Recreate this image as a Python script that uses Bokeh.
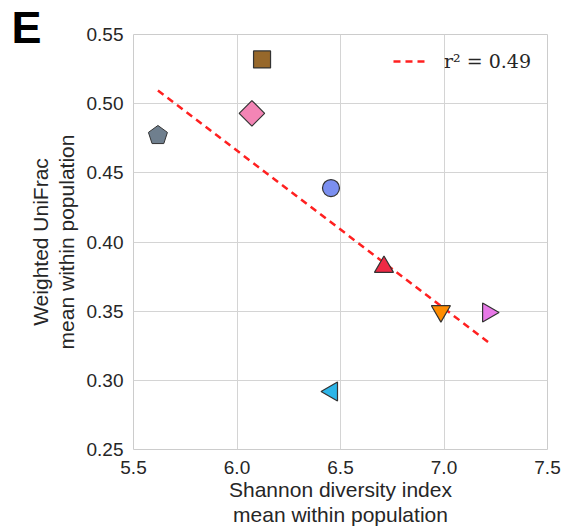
import numpy as np
from bokeh.plotting import figure
from bokeh.models import (ColumnDataSource, Title, Range1d, FixedTicker,
                          PrintfTickFormatter)
from bokeh.embed import file_html
from bokeh.resources import INLINE

# ---- data ----
shannon = [5.618, 6.121, 6.072, 6.454, 6.710, 6.985, 7.213, 6.459]
unifrac = [0.477, 0.532, 0.493, 0.439, 0.382, 0.350, 0.349, 0.292]
marker_kind = ["pentagon", "square", "diamond", "circle", "triangle",
               "inverted_triangle", "triangle_right", "triangle_left"]
marker_color = ["#6f7f8e", "#97682b", "#f385b5", "#7b8ff0", "#ee2a45",
                "#ff8c00", "#e879e8", "#2cb5e8"]
r_squared = 0.49
x_ticks = [5.5, 6.0, 6.5, 7.0, 7.5]
y_ticks = [0.25, 0.30, 0.35, 0.40, 0.45, 0.50, 0.55]

FONT = "Liberation Sans"
TXT = "#262626"

p = figure(width=563, height=529, output_backend="svg", toolbar_location=None,
           x_range=Range1d(5.5, 7.5), y_range=Range1d(0.25, 0.55),
           min_border_left=133, min_border_right=16,
           min_border_top=34, min_border_bottom=80)

p.background_fill_color = "white"
p.border_fill_color = "white"
p.outline_line_color = "#cccccc"
p.outline_line_width = 1

p.xaxis.ticker = FixedTicker(ticks=x_ticks)
p.yaxis.ticker = FixedTicker(ticks=y_ticks)
p.xaxis.formatter = PrintfTickFormatter(format="%.1f")
p.yaxis.formatter = PrintfTickFormatter(format="%.2f")
for ax in (p.xaxis[0], p.yaxis[0]):
    ax.axis_line_color = None
    ax.major_tick_line_color = None
    ax.minor_tick_line_color = None
    ax.major_tick_out = 0
    ax.major_tick_in = 0
    ax.minor_tick_out = 0
    ax.minor_tick_in = 0
    ax.major_label_text_font = FONT
    ax.major_label_text_font_size = "19px"
    ax.major_label_text_color = TXT
    ax.axis_label_text_font = FONT
    ax.axis_label_text_font_size = "21px"
    ax.axis_label_text_font_style = "normal"
    ax.axis_label_text_color = TXT
    ax.axis_label_text_line_height = 1.12
p.xaxis.major_label_standoff = 11
p.yaxis.major_label_standoff = 10
p.xaxis.axis_label = "Shannon diversity index\nmean within population"
p.yaxis.axis_label = "Weighted UniFrac\nmean within population"
p.xaxis.axis_label_standoff = 1
p.yaxis.axis_label_standoff = 6

p.xgrid.ticker = FixedTicker(ticks=x_ticks)
p.ygrid.ticker = FixedTicker(ticks=y_ticks)
p.grid.grid_line_color = "#d4d4d4"
p.grid.grid_line_width = 1

# regression line from the data
slope, intercept = np.polyfit(shannon, unifrac, 1)
fx = np.array([min(shannon), max(shannon)])
fy = slope * fx + intercept
p.line(fx, fy, line_color="#ff2020", line_width=2.5, line_dash="7 5",
       legend_label="r\u00b2 = %.2f" % r_squared)

EDGE = "#333333"
def pts(kind):
    idx = [i for i, k in enumerate(marker_kind) if k == kind]
    return ColumnDataSource(dict(x=[shannon[i] for i in idx],
                                 y=[unifrac[i] for i in idx],
                                 c=[marker_color[i] for i in idx]))

p.ngon(x="x", y="y", radius=10, radius_units="screen", n=5,
       fill_color="c", line_color=EDGE, line_width=1, source=pts("pentagon"))
p.scatter("x", "y", marker="square", size=17, fill_color="c", line_color=EDGE,
          line_width=1.2, source=pts("square"))
p.scatter("x", "y", marker="square", angle=np.pi / 4, size=18, fill_color="c",
          line_color=EDGE, line_width=1.2, source=pts("diamond"))
p.scatter("x", "y", marker="circle", size=17, fill_color="c", line_color=EDGE,
          line_width=1.2, source=pts("circle"))
p.scatter("x", "y", marker="triangle", size=19, fill_color="c", line_color=EDGE,
          line_width=1.2, source=pts("triangle"))
p.scatter("x", "y", marker="inverted_triangle", size=19, fill_color="c",
          line_color=EDGE, line_width=1.2, source=pts("inverted_triangle"))
p.scatter("x", "y", marker="triangle", angle=-np.pi / 2, size=19, fill_color="c",
          line_color=EDGE, line_width=1.2, source=pts("triangle_right"))
p.scatter("x", "y", marker="triangle", angle=np.pi / 2, size=19, fill_color="c",
          line_color=EDGE, line_width=1.2, source=pts("triangle_left"))

lg = p.legend[0]
lg.location = "top_right"
lg.background_fill_alpha = 0
lg.border_line_alpha = 0
lg.label_text_font = "DejaVu Serif"
lg.label_text_font_size = "19px"
lg.label_text_color = TXT
lg.glyph_width = 36
lg.label_standoff = 15
lg.margin = 10
lg.padding = 6

panel_title = Title(text="E", text_font=FONT, text_font_size="45px",
                    text_font_style="bold", text_color="black",
                    align="left", vertical_align="bottom",
                    offset=-122, standoff=-36)
p.add_layout(panel_title, "above")

open("out.html", "w").write(file_html(p, INLINE))
